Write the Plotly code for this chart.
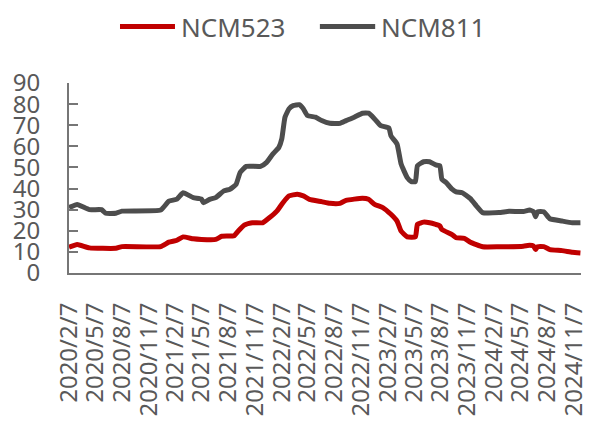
import plotly.graph_objects as go

# Weekly cathode material prices (10k CNY / t)
dates_811 = [
    "2020-02-07", "2020-03-06", "2020-04-17", "2020-05-29", "2020-06-12", "2020-07-17",
    "2020-08-07", "2020-12-18", "2021-01-15", "2021-02-12", "2021-03-05", "2021-04-09",
    "2021-05-07", "2021-05-14", "2021-06-04", "2021-06-25", "2021-07-23", "2021-08-13",
    "2021-09-03", "2021-09-17", "2021-10-08", "2021-11-26", "2021-12-17", "2022-01-07",
    "2022-01-28", "2022-02-07", "2022-02-18", "2022-03-04", "2022-03-18", "2022-04-08",
    "2022-04-22", "2022-05-06", "2022-06-03", "2022-06-24", "2022-07-22", "2022-08-26",
    "2022-09-16", "2022-10-14", "2022-11-11", "2022-12-02", "2022-12-23", "2023-01-13",
    "2023-02-10", "2023-02-17", "2023-03-10", "2023-03-24", "2023-04-14", "2023-04-28",
    "2023-05-12", "2023-05-19", "2023-06-09", "2023-06-30", "2023-07-21", "2023-08-04",
    "2023-08-11", "2023-08-25", "2023-09-15", "2023-09-29", "2023-10-20", "2023-11-17",
    "2023-12-08", "2023-12-29", "2024-02-23", "2024-03-29", "2024-05-17", "2024-06-07",
    "2024-06-21", "2024-06-28", "2024-07-05", "2024-07-26", "2024-08-16", "2024-09-27",
    "2024-11-01", "2024-11-29",
]
ncm811 = [
    31.0, 32.5, 30.0, 30.0, 28.3, 28.3,
    29.3, 29.8, 34.0, 35.0, 38.0, 35.7,
    35.0, 33.3, 34.9, 35.7, 38.9, 39.7,
    42.0, 47.6, 50.5, 50.5, 52.4, 56.3,
    59.5, 63.5, 73.8, 77.8, 79.3, 79.7,
    77.8, 74.6, 73.8, 72.2, 70.9, 70.9,
    72.2, 73.8, 75.7, 75.7, 73.0, 69.8,
    68.7, 65.0, 61.1, 51.6, 45.2, 43.3,
    43.3, 50.8, 52.7, 52.7, 51.2, 50.8,
    44.4, 42.9, 39.7, 38.4, 38.0, 35.2,
    31.7, 28.6, 28.6, 29.2, 29.1, 29.8,
    29.0, 26.7, 29.0, 29.0, 25.7, 24.6,
    23.8, 23.8,
]

dates_523 = [
    "2020-02-07", "2020-03-06", "2020-04-17", "2020-07-17", "2020-08-07", "2020-12-18",
    "2021-01-15", "2021-02-12", "2021-03-05", "2021-04-09", "2021-05-07", "2021-06-25",
    "2021-07-16", "2021-08-27", "2021-09-10", "2021-10-01", "2021-10-29", "2021-12-03",
    "2021-12-24", "2022-01-21", "2022-02-11", "2022-03-04", "2022-04-01", "2022-04-22",
    "2022-05-13", "2022-06-24", "2022-07-22", "2022-08-26", "2022-09-16", "2022-11-11",
    "2022-12-02", "2022-12-23", "2023-01-20", "2023-02-17", "2023-03-10", "2023-03-24",
    "2023-04-14", "2023-05-12", "2023-05-19", "2023-06-09", "2023-06-30", "2023-07-21",
    "2023-08-04", "2023-08-11", "2023-09-15", "2023-09-29", "2023-10-27", "2023-11-17",
    "2023-12-29", "2024-02-23", "2024-05-17", "2024-06-07", "2024-06-21", "2024-06-28",
    "2024-07-05", "2024-07-26", "2024-08-16", "2024-09-27", "2024-11-01", "2024-11-29",
]
ncm523 = [
    12.2, 13.5, 11.9, 11.7, 12.5, 12.5,
    14.6, 15.5, 17.1, 16.2, 15.9, 15.9,
    17.4, 17.6, 19.8, 22.7, 23.8, 23.8,
    25.9, 29.3, 33.3, 36.5, 37.3, 36.5,
    34.9, 33.8, 33.0, 33.0, 34.4, 35.4,
    34.9, 32.5, 31.0, 27.8, 24.6, 19.8,
    17.1, 17.1, 23.0, 24.1, 23.8, 23.0,
    22.3, 20.6, 18.2, 16.7, 16.4, 14.6,
    12.4, 12.4, 12.7, 13.1, 12.8, 11.1,
    12.5, 12.5, 11.1, 10.6, 9.8, 9.5,
]

series_names = ["NCM523", "NCM811"]
series_colors = ["#C00000", "#4D4D4D"]
y_ticks = [0, 10, 20, 30, 40, 50, 60, 70, 80, 90]

FONT = "Noto Sans"
TEXT_COLOR = "#595959"
AXIS_COLOR = "#767676"

fig = go.Figure()
fig.add_trace(go.Scatter(x=dates_523, y=ncm523, mode="lines", name=series_names[0],
                         line=dict(color=series_colors[0], width=5, shape="spline", smoothing=0.4),
                         showlegend=False))
fig.add_trace(go.Scatter(x=dates_811, y=ncm811, mode="lines", name=series_names[1],
                         line=dict(color=series_colors[1], width=5, shape="spline", smoothing=0.4),
                         showlegend=False))

# Legend drawn along the top: short thick line + label for each series
legend_items = [(0.0996, 0.207, 0.215), (0.490, 0.598, 0.606)]
for (x0, x1, xt), name, color in zip(legend_items, series_names, series_colors):
    fig.add_shape(type="line", xref="paper", yref="paper", x0=x0, x1=x1, y0=1.297, y1=1.297,
                  line=dict(color=color, width=5))
    fig.add_annotation(xref="paper", yref="paper", x=xt, y=1.297, text=name, showarrow=False,
                       xanchor="left", yanchor="middle",
                       font=dict(family=FONT, size=26, color=TEXT_COLOR))

fig.update_layout(
    width=590, height=424,
    margin=dict(l=69, r=9, t=83, b=151, autoexpand=False),
    paper_bgcolor="white", plot_bgcolor="white",
    font=dict(family=FONT, size=25, color=TEXT_COLOR),
)
fig.update_xaxes(
    type="date", range=["2020-02-07", "2024-12-01"],
    tick0="2020-02-07", dtick="M3", tickformat="%Y/%-m/%-d",
    tickangle=-90, ticks="", showgrid=False, zeroline=False,
    showline=True, linecolor=AXIS_COLOR, linewidth=2,
    ticklabelstandoff=18, automargin=False,
    tickfont=dict(family=FONT, size=24, color=TEXT_COLOR),
)
fig.update_yaxes(
    range=[0, 90], tickvals=y_ticks, ticks="inside", ticklen=9, tickwidth=2,
    tickcolor=AXIS_COLOR, showgrid=False, zeroline=False,
    showline=True, linecolor=AXIS_COLOR, linewidth=2,
    ticklabelstandoff=22, automargin=False,
    tickfont=dict(family=FONT, size=24, color=TEXT_COLOR),
)

fig.write_html("out.html")
